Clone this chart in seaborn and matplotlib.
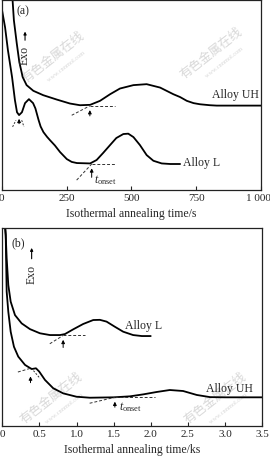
import numpy as np
import pandas as pd
import matplotlib
matplotlib.use('Agg')
import matplotlib.pyplot as plt
import matplotlib.transforms as mtrans
import seaborn as sns

# ---------- dados ----------
# (a) tempo em s, sinal normalizado (0 = base do eixo, 1 = topo)
t_a_uh = [42, 47, 58, 68, 81, 96, 122, 160, 212, 263, 302, 341, 379, 418, 456,
          508, 559, 611, 662, 688, 714, 740, 765, 803, 829, 900, 1000]
v_a_uh = [1.0, 0.895, 0.774, 0.674, 0.595, 0.553, 0.523, 0.50, 0.477, 0.456,
          0.447, 0.449, 0.470, 0.505, 0.535, 0.553, 0.558, 0.540, 0.505, 0.490,
          0.470, 0.458, 0.452, 0.447, 0.445, 0.445, 0.445]
t_a_l = [0, 13, 24, 40, 51, 59, 67, 78, 90, 105, 121, 130, 136, 142, 150, 161,
         175, 186, 205, 225, 251, 270, 290, 341, 366, 391, 418, 442, 469, 488,
         508, 533, 559, 585, 617, 650, 688]
v_a_l = [0.958, 0.858, 0.737, 0.595, 0.474, 0.41, 0.395, 0.41, 0.458, 0.479,
         0.458, 0.43, 0.40, 0.37, 0.335, 0.305, 0.28, 0.263, 0.235, 0.20,
         0.163, 0.148, 0.142, 0.140, 0.158, 0.195, 0.237, 0.274, 0.295, 0.297,
         0.279, 0.237, 0.184, 0.154, 0.140, 0.137, 0.137]

# (b) tempo em ks
t_b_l = [0.030, 0.046, 0.059, 0.081, 0.113, 0.171, 0.261, 0.373, 0.507, 0.642,
         0.777, 0.844, 0.956, 1.09, 1.225, 1.315, 1.405, 1.517, 1.629, 1.763,
         1.88, 2.0]
v_b_l = [1.05, 0.966, 0.848, 0.713, 0.629, 0.561, 0.519, 0.490, 0.469, 0.460,
         0.460, 0.465, 0.489, 0.516, 0.536, 0.537, 0.528, 0.502, 0.477, 0.460,
         0.455, 0.455]
t_b_uh = [0.030, 0.046, 0.059, 0.081, 0.113, 0.157, 0.215, 0.306, 0.396, 0.454,
          0.498, 0.575, 0.686, 0.821, 1.0, 1.18, 1.5, 1.72, 1.9, 2.08, 2.257,
          2.436, 2.62, 2.8, 3.0, 3.5]
v_b_uh = [1.05, 0.966, 0.68, 0.578, 0.477, 0.401, 0.351, 0.309, 0.288, 0.292,
          0.275, 0.233, 0.191, 0.165, 0.148, 0.143, 0.145, 0.150, 0.160, 0.172,
          0.182, 0.177, 0.157, 0.146, 0.145, 0.145]

xticks_a = [0, 250, 500, 750, 1000]
xtlabels_a = ['0', '250', '500', '750', '1 000']
xticks_b = [0, 0.5, 1.0, 1.5, 2.0, 2.5, 3.0, 3.5]
xtlabels_b = ['0', '0.5', '1.0', '1.5', '2.0', '2.5', '3.0', '3.5']

# marcadores de t_onset: (t, v)
onset_a_l = (347, 0.137)
onset_a_uh = (340, 0.444)
onset_a_early = (67, 0.395)
onset_b_l = (0.82, 0.458)
onset_b_uh = (1.517, 0.145)
onset_b_early = (0.38, 0.29)

# ---------- estilo ----------
sns.set_style('ticks')
plt.rcParams['font.family'] = ['Liberation Serif', 'DejaVu Serif']
plt.rcParams['mathtext.fontset'] = 'custom'
plt.rcParams['mathtext.it'] = 'Liberation Serif:italic'
plt.rcParams['mathtext.rm'] = 'Liberation Serif'

fig = plt.figure(figsize=(2.7, 4.58), dpi=100)
ax_a = fig.add_axes([0.0063, 0.5852, 0.9604, 0.4140])
ax_b = fig.add_axes([0.0085, 0.0699, 0.9620, 0.4316])

lw = 1.3
for t, v, ax in [(t_a_uh, v_a_uh, ax_a), (t_a_l, v_a_l, ax_a),
                 (t_b_l, v_b_l, ax_b), (t_b_uh, v_b_uh, ax_b)]:
    df = pd.DataFrame({'t': t, 'v': v})
    sns.lineplot(data=df, x='t', y='v', ax=ax, sort=False, estimator=None,
                 color='black', linewidth=lw)


def onset_marker(ax, pt, dx_h, tan_dx, tan_dy, arr_len, arr_gap=0.008):
    t0, v0 = pt
    ax.plot([t0, t0 + dx_h], [v0, v0], ls=(0, (3, 2)), color='#333333', lw=0.7)
    ax.plot([t0 - tan_dx, t0], [v0 - tan_dy, v0], ls=(0, (3, 2)),
            color='#333333', lw=0.7)
    ax.annotate('', xy=(t0, v0 - arr_gap), xytext=(t0, v0 - arr_len),
                arrowprops=dict(arrowstyle='-|>', color='black', lw=0.7,
                                mutation_scale=5))


# (a)
onset_marker(ax_a, onset_a_l, 90, 58, 0.085, 0.085)
onset_marker(ax_a, onset_a_uh, 97, 70, 0.05, 0.068)
t0, v0 = onset_a_early
ax_a.plot([t0 - 25, t0 - 12], [v0 - 0.062, v0 - 0.027], ls=(0, (2, 1.5)),
          color='#333333', lw=0.7)
ax_a.plot([t0 + 10, t0 + 19], [v0 - 0.027, v0 - 0.062], ls=(0, (2, 1.5)),
          color='#333333', lw=0.7)
ax_a.annotate('', xy=(t0, v0 - 0.005), xytext=(t0, v0 - 0.06),
              arrowprops=dict(arrowstyle='-|>', color='black', lw=0.7,
                              mutation_scale=5))

# (b)
onset_marker(ax_b, onset_b_l, 0.29, 0.18, 0.042, 0.075)
onset_marker(ax_b, onset_b_uh, 0.54, 0.34, 0.03, 0.064)
t0, v0 = onset_b_early
ax_b.plot([t0 - 0.17, t0 + 0.02], [v0 - 0.017, v0 + 0.004], ls=(0, (3, 2)),
          color='#333333', lw=0.7)
ax_b.plot([t0 + 0.04, t0 + 0.13], [v0 - 0.01, v0 - 0.05], ls=(0, (2, 1.5)),
          color='#333333', lw=0.7)
ax_b.annotate('', xy=(t0, v0 - 0.025), xytext=(t0, v0 - 0.085),
              arrowprops=dict(arrowstyle='-|>', color='black', lw=0.7,
                              mutation_scale=5))

# textos
fs = 8.5
ax_a.text(812, 0.50, 'Alloy UH', fontsize=fs, va='center', ha='left')
ax_a.text(700, 0.14, 'Alloy L', fontsize=fs, va='center', ha='left')
ax_a.text(355, 0.05, r'$t_{\mathrm{onset}}$', fontsize=fs, va='center', ha='left')
ax_b.text(1.65, 0.505, 'Alloy L', fontsize=fs, va='center', ha='left')
ax_b.text(2.75, 0.188, 'Alloy UH', fontsize=fs, va='center', ha='left')
ax_b.text(1.57, 0.095, r'$t_{\mathrm{onset}}$', fontsize=fs, va='center', ha='left')

ax_a.text(0.058, 0.942, '(a)', transform=ax_a.transAxes, fontsize=fs,
          va='center', ha='left')
ax_b.text(0.037, 0.926, '(b)', transform=ax_b.transAxes, fontsize=fs,
          va='center', ha='left')

# Exo
ax_a.text(0.09, 0.71, 'Exo', transform=ax_a.transAxes, rotation=90,
          fontsize=8.5, va='center', ha='center')
ax_a.annotate('', xy=(0.09, 0.85), xytext=(0.09, 0.775),
              xycoords='axes fraction',
              arrowprops=dict(arrowstyle='-|>', color='black', lw=0.8,
                              mutation_scale=4))
ax_b.text(0.113, 0.765, 'Exo', transform=ax_b.transAxes, rotation=90,
          fontsize=8.5, va='center', ha='center')
ax_b.annotate('', xy=(0.113, 0.915), xytext=(0.113, 0.832),
              xycoords='axes fraction',
              arrowprops=dict(arrowstyle='-|>', color='black', lw=0.8,
                              mutation_scale=4))

# marca d'água
for ax, pos in [(ax_a, [(0.20, 0.70), (0.81, 0.72)]),
                (ax_b, [(0.19, 0.14), (0.82, 0.14)])]:
    for x, y in pos:
        ax.text(x, y, '有色金属在线', transform=ax.transAxes, rotation=38,
                fontsize=9, color='#d8d8d8', ha='center', va='center',
                family=['Noto Sans CJK SC', 'DejaVu Sans'], zorder=0)
        ax.text(x + 0.05, y - 0.05, 'www.cnnmol.com', transform=ax.transAxes,
                rotation=38, fontsize=4.5, color='#d8d8d8', ha='center',
                va='center', zorder=0)

# eixos
for ax, xt, xl, xlim, lab in [
        (ax_a, xticks_a, xtlabels_a, (0, 1000), 'Isothermal annealing time/s'),
        (ax_b, xticks_b, xtlabels_b, (0, 3.5), 'Isothermal annealing time/ks')]:
    ax.set_xlim(*xlim)
    ax.set_ylim(0, 1)
    ax.set_xticks(xt)
    ax.set_xticklabels(xl, fontsize=8)
    ax.set_yticks([])
    ax.set_ylabel('')
    ax.set_xlabel(lab, fontsize=8.5, labelpad=3.5)
    ax.tick_params(axis='x', direction='in', length=3, width=0.8, pad=3)
    for s in ax.spines.values():
        s.set_visible(True)
        s.set_linewidth(0.9)
        s.set_color('#222222')

# "1 000" ligeiramente deslocado para caber na figura
last = ax_a.get_xticklabels()[-1]
last.set_transform(last.get_transform() +
                   mtrans.ScaledTranslation(-3 / 100, 0, fig.dpi_scale_trans))

fig.savefig('out.png', dpi=100)
